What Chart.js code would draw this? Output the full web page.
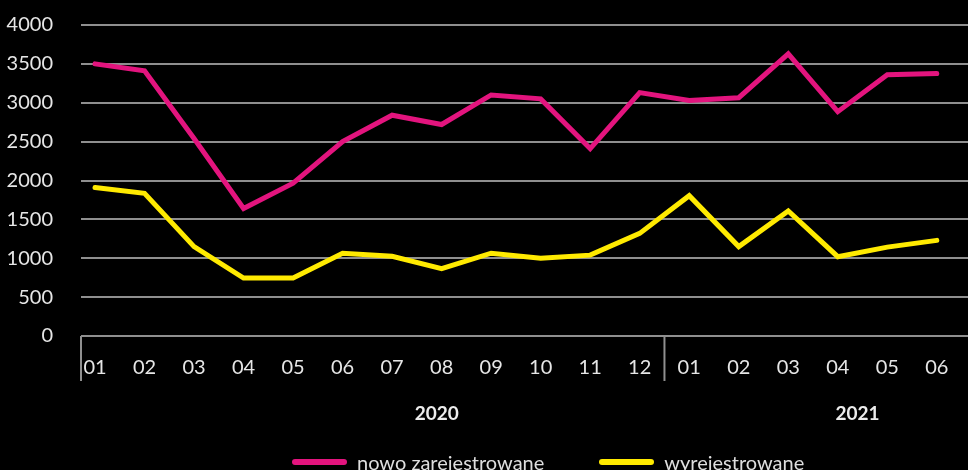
<!DOCTYPE html>
<html>
<head>
<meta charset="utf-8">
<script src="https://cdn.jsdelivr.net/npm/chart.js@4/dist/chart.umd.min.js"></script>
<style>
    html, body { margin: 0; padding: 0; background: #000; overflow: hidden; }
    #wrap { position: relative; width: 968px; height: 470px; }
    #legend { position: absolute; left: 292px; top: 450px; display: flex; align-items: center; font-family: Lato, sans-serif; font-size: 20px; color: #dedede; }
    #legend .item { display: flex; align-items: center; margin-right: 55px; }
    #legend .swatch { width: 55px; height: 6px; border-radius: 3px; margin-right: 10px; }
</style>
</head>
<body>
<div id="wrap">
    <canvas id="chart" width="968" height="470"></canvas>
    <div id="legend"></div>
</div>
<script>
// Months on the x axis (2020: 01-12, 2021: 01-06)
const months = ['01', '02', '03', '04', '05', '06', '07', '08', '09', '10', '11', '12',
                '01', '02', '03', '04', '05', '06'];
const years = ['2020', '2021'];
const monthsPerYear = [12, 6];

// Series values
const newlyRegistered = [3500, 3410, 2540, 1640, 1965, 2500, 2840, 2720, 3100, 3050, 2410, 3130,
                         3030, 3065, 3630, 2885, 3360, 3375];
const deregistered = [1910, 1835, 1150, 745, 745, 1065, 1025, 865, 1065, 1000, 1040, 1320,
                      1805, 1150, 1608, 1020, 1143, 1230];

const yTicks = [0, 500, 1000, 1500, 2000, 2500, 3000, 3500, 4000];

const seriesLabels = ['nowo zarejestrowane', 'wyrejestrowane'];
const seriesColors = ['#e3147e', '#ffea00'];

const toPoints = arr => arr.map((v, i) => ({ x: i, y: v }));

// Draws the category separators below the axis and the year labels
const groupPlugin = {
    id: 'groupPlugin',
    afterDraw(chart, args, opts) {
        const ctx = chart.ctx;
        const x = chart.scales.x;
        const area = chart.chartArea;
        ctx.save();
        ctx.strokeStyle = '#8f8f8f';
        ctx.lineWidth = 2;
        const seps = [area.left];
        let idx = 0;
        monthsPerYear.forEach((n, i) => {
            idx += n;
            if (i < monthsPerYear.length - 1) seps.push(x.getPixelForValue(idx - 0.5));
        });
        seps.forEach(px => {
            ctx.beginPath();
            ctx.moveTo(px, area.bottom);
            ctx.lineTo(px, area.bottom + 45);
            ctx.stroke();
        });
        ctx.fillStyle = '#ececec';
        ctx.font = 'bold 19px Lato, sans-serif';
        ctx.textAlign = 'center';
        ctx.textBaseline = 'middle';
        years.forEach((y, i) => {
            ctx.fillText(y, x.getPixelForValue(opts.labelAt[i]), area.bottom + 78);
        });
        ctx.restore();
    }
};

const ctx = document.getElementById('chart').getContext('2d');
const chart = new Chart(ctx, {
    type: 'line',
    data: {
        datasets: [
            {
                label: seriesLabels[0],
                data: toPoints(newlyRegistered),
                borderColor: seriesColors[0],
                borderWidth: 5,
                pointRadius: 0,
                borderCapStyle: 'round',
                tension: 0
            },
            {
                label: seriesLabels[1],
                data: toPoints(deregistered),
                borderColor: seriesColors[1],
                borderWidth: 5,
                pointRadius: 0,
                borderCapStyle: 'round',
                tension: 0
            }
        ]
    },
    options: {
        responsive: false,
        animation: false,
        layout: { padding: { top: 25, right: 0, left: 0, bottom: 0 } },
        plugins: {
            legend: { display: false },
            tooltip: { enabled: false },
            groupPlugin: { labelAt: [6.9, 15.4] }
        },
        scales: {
            x: {
                type: 'linear',
                min: -0.283,
                max: 17.63,
                grid: { display: false },
                border: { display: false },
                afterBuildTicks: scale => {
                    scale.ticks = months.map((m, i) => ({ value: i }));
                },
                afterFit: scale => { scale.height = 134; },
                ticks: {
                    autoSkip: false,
                    maxRotation: 0,
                    padding: 12,
                    color: '#e6e6e6',
                    font: { family: 'Lato, sans-serif', size: 20 },
                    callback: (v) => months[v]
                }
            },
            y: {
                min: 0,
                max: 4000,
                afterBuildTicks: scale => {
                    scale.ticks = yTicks.map(v => ({ value: v }));
                },
                afterFit: scale => { scale.width = 81; },
                grid: {
                    color: '#8f8f8f',
                    lineWidth: 2,
                    drawTicks: true,
                    tickLength: 28,
                    tickColor: 'rgba(0,0,0,0)'
                },
                border: { display: false },
                ticks: {
                    padding: 0,
                    color: '#e6e6e6',
                    font: { family: 'Lato, sans-serif', size: 20 },
                    callback: (v) => String(v)
                }
            }
        }
    },
    plugins: [groupPlugin]
});

// Legend
const legend = document.getElementById('legend');
chart.data.datasets.forEach(ds => {
    const item = document.createElement('div');
    item.className = 'item';
    item.innerHTML = `<span class="swatch" style="background:${ds.borderColor}"></span><span>${ds.label}</span>`;
    legend.appendChild(item);
});
</script>
</body>
</html>
